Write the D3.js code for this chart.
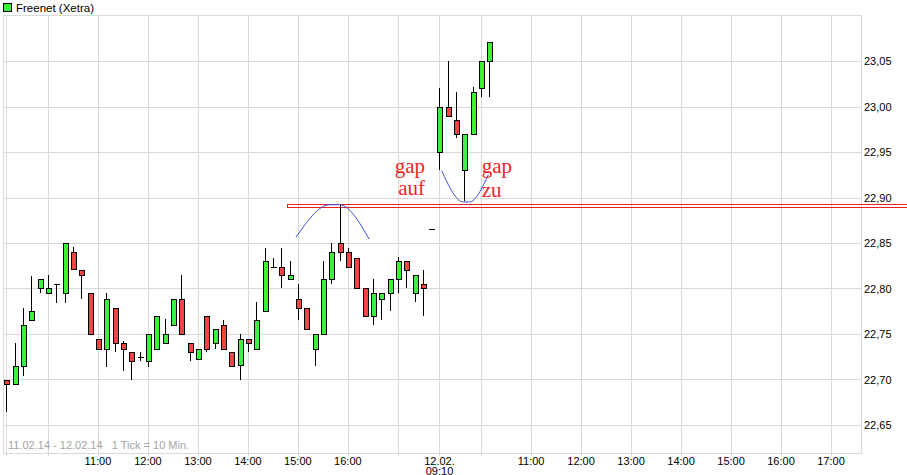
<!DOCTYPE html>
<html><head><meta charset="utf-8">
<script src="https://cdn.jsdelivr.net/npm/d3@7"></script>
<style>body{margin:0;background:#fff;} svg{display:block;}</style>
</head><body><svg id="c" width="907" height="475"></svg>
<script>
// ---------------- data ----------------
const title = "Freenet (Xetra)";
const footnote = "11.02.14 - 12.02.14   1 Tick = 10 Min.";

const times = [
  "11.02. 09:10","11.02. 09:20","11.02. 09:30","11.02. 09:40","11.02. 09:50",
  "11.02. 10:00","11.02. 10:10","11.02. 10:20","11.02. 10:30","11.02. 10:40","11.02. 10:50",
  "11.02. 11:00","11.02. 11:10","11.02. 11:20","11.02. 11:30","11.02. 11:40","11.02. 11:50",
  "11.02. 12:00","11.02. 12:10","11.02. 12:20","11.02. 12:30","11.02. 12:40","11.02. 12:50",
  "11.02. 13:00","11.02. 13:10","11.02. 13:20","11.02. 13:30","11.02. 13:40","11.02. 13:50",
  "11.02. 14:00","11.02. 14:10","11.02. 14:20","11.02. 14:30","11.02. 14:40","11.02. 14:50",
  "11.02. 15:00","11.02. 15:10","11.02. 15:20","11.02. 15:30","11.02. 15:40","11.02. 15:50",
  "11.02. 16:00","11.02. 16:10","11.02. 16:20","11.02. 16:30","11.02. 16:40","11.02. 16:50",
  "11.02. 17:00","11.02. 17:10","11.02. 17:20","11.02. 17:30",
  "12.02. 09:00","12.02. 09:10","12.02. 09:20","12.02. 09:30","12.02. 09:40","12.02. 09:50",
  "12.02. 10:00","12.02. 10:10"
];
const open = [
  22.699,22.695,22.715,22.765,22.800,22.795,22.805,22.795,22.840,22.820,
  22.795,22.744,22.734,22.779,22.740,22.730,22.725,22.720,22.734,22.740,
  22.760,22.789,22.740,22.723,22.770,22.740,22.760,22.730,22.716,22.744,
  22.734,22.775,22.824,22.824,22.810,22.789,22.779,22.734,22.750,22.810,
  22.850,22.840,22.834,22.800,22.770,22.789,22.795,22.810,22.830,22.795,
  22.805,22.865,22.950,23.000,22.985,22.930,22.970,23.020,23.050
];
const high = [
  22.699,22.740,22.779,22.814,22.810,22.815,22.805,22.850,22.846,22.820,
  22.795,22.744,22.795,22.779,22.742,22.730,22.730,22.750,22.770,22.766,
  22.789,22.815,22.740,22.734,22.770,22.755,22.765,22.730,22.750,22.744,
  22.785,22.845,22.834,22.845,22.830,22.805,22.779,22.750,22.830,22.850,
  22.892,22.845,22.834,22.800,22.810,22.795,22.810,22.835,22.830,22.815,
  22.820,22.865,23.020,23.050,23.016,22.970,23.021,23.050,23.071
];
const low = [
  22.664,22.695,22.704,22.765,22.795,22.795,22.784,22.784,22.821,22.789,
  22.750,22.734,22.714,22.730,22.709,22.699,22.720,22.714,22.734,22.740,
  22.760,22.750,22.720,22.723,22.730,22.734,22.734,22.715,22.699,22.730,
  22.734,22.775,22.824,22.800,22.810,22.765,22.755,22.715,22.750,22.805,
  22.830,22.824,22.800,22.770,22.760,22.765,22.775,22.795,22.800,22.785,
  22.770,22.865,22.930,22.990,22.965,22.896,22.970,23.010,23.010
];
const close = [
  22.695,22.715,22.760,22.775,22.810,22.800,22.805,22.850,22.821,22.815,
  22.750,22.734,22.789,22.740,22.734,22.720,22.725,22.750,22.770,22.750,
  22.789,22.750,22.730,22.734,22.734,22.755,22.734,22.715,22.744,22.740,
  22.765,22.830,22.824,22.815,22.815,22.779,22.755,22.750,22.810,22.840,
  22.840,22.824,22.800,22.770,22.795,22.795,22.810,22.830,22.820,22.815,
  22.800,22.865,23.000,22.990,22.970,22.970,23.016,23.050,23.071
];

const yTicks = [22.65,22.70,22.75,22.80,22.85,22.90,22.95,23.00,23.05];
const gridTimes = [
  "11.02. 09:10","11.02. 10:00","11.02. 11:00","11.02. 12:00","11.02. 13:00","11.02. 14:00",
  "11.02. 15:00","11.02. 16:00","11.02. 17:00",
  "12.02. 09:10","12.02. 10:00","12.02. 11:00","12.02. 12:00","12.02. 13:00","12.02. 14:00",
  "12.02. 15:00","12.02. 16:00","12.02. 17:00"
];
const xLabelTimes = [
  "11.02. 11:00","11.02. 12:00","11.02. 13:00","11.02. 14:00","11.02. 15:00","11.02. 16:00",
  "12.02. 09:10",
  "12.02. 11:00","12.02. 12:00","12.02. 13:00","12.02. 14:00","12.02. 15:00","12.02. 16:00","12.02. 17:00"
];
const xLabelTexts = [
  "11:00","12:00","13:00","14:00","15:00","16:00",
  "12.02.|09:10",
  "11:00","12:00","13:00","14:00","15:00","16:00","17:00"
];
// session start of each day: [first bar time, slot number]
const sessionStart = {"11.02.": ["09:10", 0], "12.02.": ["09:00", 51]};
const slotDomain = [-0.4, 102.6];
const yDomain = [22.65, 23.05];

// annotations (in data units: slot, price)
const gapZone = {startSlot: 33.7, low: 22.8892, high: 22.8929};
const arcTop = [[34.77,22.8563],[38.86,22.8921],[39.97,22.8921],[43.57,22.8541]];
const arcBottom = [[52.26,22.9295],[54.86,22.8951],[55.58,22.8951],[57.86,22.9250]];
const notes = [
  {slot: 50.26, price: 22.9268, text: "gap", anchor: "end"},
  {slot: 50.26, price: 22.9027, text: "auf", anchor: "end"},
  {slot: 57.07, price: 22.9268, text: "gap", anchor: "start"},
  {slot: 57.07, price: 22.9008, text: "zu", anchor: "start"}
];

// ---------------- drawing ----------------
const svg = d3.select("#c");
const W = 907, H = 475;
const plot = {left: 3, right: 861, top: 15, bottom: 453};
const green = "#3cf03c", red = "#f04444", gridC = "#d9d9d9";

const mins = hm => { const [h, m] = hm.split(":").map(Number); return h * 60 + m; };
const slot = t => { const [d, hm] = t.split(" "); const [s, base] = sessionStart[d]; return base + (mins(hm) - mins(s)) / 10; };

const x = d3.scaleLinear().domain(slotDomain).range([plot.left, plot.right]);
const y = d3.scaleLinear().domain(yDomain).range([425, 61]);
const px = v => Math.round(v) + 0.5;

svg.append("rect").attr("width", W).attr("height", H).attr("fill", "#fff");

// grid
const g = svg.append("g").attr("shape-rendering", "crispEdges");
g.selectAll("line.h").data(yTicks).join("line")
  .attr("x1", plot.left).attr("x2", plot.right)
  .attr("y1", d => px(y(d))).attr("y2", d => px(y(d)))
  .attr("stroke", gridC);
g.selectAll("line.v").data(gridTimes).join("line")
  .attr("x1", d => px(x(slot(d)))).attr("x2", d => px(x(slot(d))))
  .attr("y1", plot.top).attr("y2", plot.bottom + 3)
  .attr("stroke", gridC);
g.append("rect")
  .attr("x", plot.left + 0.5).attr("y", plot.top + 0.5)
  .attr("width", plot.right - plot.left).attr("height", plot.bottom - plot.top)
  .attr("fill", "none").attr("stroke", gridC);

// y labels
const fmt = d3.format(".2f");
svg.selectAll("text.yl").data(yTicks).join("text")
  .attr("x", 864).attr("y", d => y(d) + 4)
  .attr("font-family", "Liberation Sans, Arial, sans-serif").attr("font-size", 11)
  .attr("fill", "#000")
  .text(d => fmt(d).replace(".", ","));

// x labels
const xl = svg.selectAll("text.xl").data(xLabelTimes).join("text")
  .attr("x", d => x(slot(d))).attr("y", 465)
  .attr("text-anchor", "middle")
  .attr("font-family", "Liberation Sans, Arial, sans-serif").attr("font-size", 11)
  .attr("fill", "#000");
xl.each(function(d, i) {
  const parts = xLabelTexts[i].split("|");
  const t = d3.select(this);
  parts.forEach((p, k) => t.append("tspan").attr("x", x(slot(d))).attr("dy", k ? 9.5 : 0).text(p));
});

// footnote
svg.append("text").attr("x", 8).attr("y", 448.5)
  .attr("font-family", "Liberation Sans, Arial, sans-serif").attr("font-size", 11)
  .attr("fill", "#a3a3a3").style("white-space", "pre").text(footnote);

// title / legend
svg.append("rect").attr("x", 3.5).attr("y", 3.5).attr("width", 8).attr("height", 8)
  .attr("fill", green).attr("stroke", "#000");
svg.append("text").attr("x", 16).attr("y", 12)
  .attr("font-family", "Liberation Sans, Arial, sans-serif").attr("font-size", 11.5)
  .attr("fill", "#000").text(title);

// gap zone (red double line)
svg.append("rect")
  .attr("x", px(x(gapZone.startSlot))).attr("y", px(y(gapZone.high)))
  .attr("width", W + 10 - x(gapZone.startSlot))
  .attr("height", Math.round(y(gapZone.low) - y(gapZone.high)))
  .attr("fill", "none").attr("stroke", "#e8202a").attr("stroke-width", 1)
  .attr("shape-rendering", "crispEdges");

// candles
const candles = times.map((t, i) => ({s: slot(t), o: open[i], h: high[i], l: low[i], c: close[i]}));
const cg = svg.append("g").attr("shape-rendering", "crispEdges");
candles.forEach(d => {
  const cx = px(x(d.s));
  cg.append("line").attr("x1", cx).attr("x2", cx)
    .attr("y1", Math.round(y(d.h))).attr("y2", Math.round(y(d.l)))
    .attr("stroke", "#000").attr("stroke-width", 1);
  if (d.o === d.c) {
    cg.append("line").attr("x1", cx - 3).attr("x2", cx + 3)
      .attr("y1", px(y(d.o))).attr("y2", px(y(d.o)))
      .attr("stroke", "#000");
  } else {
    const top = Math.round(y(Math.max(d.o, d.c))), bot = Math.round(y(Math.min(d.o, d.c)));
    cg.append("rect").attr("x", cx - 2.5).attr("y", top + 0.5)
      .attr("width", 5).attr("height", Math.max(1, bot - top))
      .attr("fill", d.c > d.o ? green : red)
      .attr("stroke", "#000").attr("stroke-width", 1);
  }
});

// arcs
const line = d3.line().x(d => x(d[0])).y(d => y(d[1])).curve(d3.curveMonotoneX);
[arcTop, arcBottom].forEach(a => svg.append("path").attr("d", line(a))
  .attr("fill", "none").attr("stroke", "#3a4fd8").attr("stroke-width", 1));

// notes
svg.selectAll("text.note").data(notes).join("text")
  .attr("x", d => x(d.slot)).attr("y", d => y(d.price))
  .attr("text-anchor", d => d.anchor)
  .attr("font-family", "Liberation Serif, Times New Roman, serif").attr("font-size", 21)
  .attr("fill", "#ee2424").text(d => d.text);
</script></body></html>
